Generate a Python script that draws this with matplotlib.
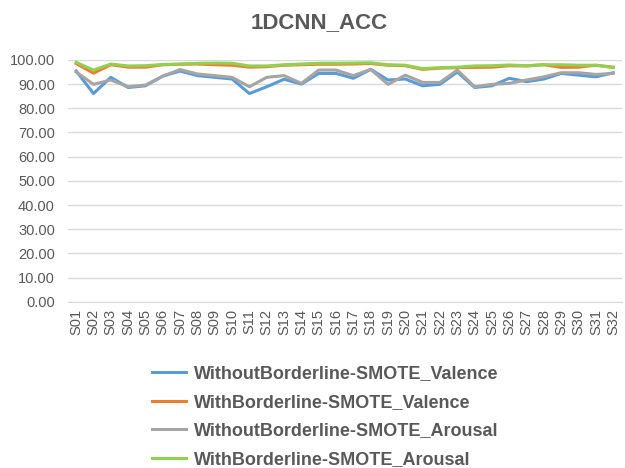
import matplotlib
matplotlib.use("Agg")
import matplotlib.pyplot as plt
import matplotlib.ticker as ticker

plt.rcParams["font.family"] = ["Liberation Sans", "DejaVu Sans"]

subjects = ["S%02d" % i for i in range(1, 33)]

without_valence = [95.4, 86.1, 92.8, 88.6, 89.3, 93.3, 95.4, 93.5, 92.8, 92.1,
                   86.1, 88.9, 92.0, 90.0, 94.4, 94.4, 92.4, 96.1, 91.7, 92.1,
                   89.3, 89.9, 95.0, 88.6, 89.3, 92.4, 91.0, 92.1, 94.4, 93.7,
                   93.0, 94.7]
with_valence = [98.5, 94.5, 98.0, 97.0, 97.0, 98.0, 98.2, 98.3, 98.0, 97.8,
                97.0, 97.2, 97.8, 98.0, 98.2, 98.2, 98.3, 98.5, 97.8, 97.6,
                96.1, 96.6, 96.8, 96.9, 97.0, 97.6, 97.5, 98.0, 96.9, 97.0,
                97.8, 97.0]
without_arousal = [95.0, 89.9, 91.7, 88.9, 89.6, 93.3, 96.0, 94.2, 93.5, 92.8,
                   88.9, 92.8, 93.5, 90.3, 95.8, 95.8, 93.5, 96.1, 89.9, 93.7,
                   90.7, 90.7, 95.8, 88.9, 89.9, 90.3, 91.7, 93.0, 94.7, 94.7,
                   94.0, 94.4]
with_arousal = [99.0, 95.8, 98.3, 97.5, 97.6, 98.1, 98.3, 98.6, 98.7, 98.6,
                97.5, 97.5, 98.0, 98.3, 98.6, 98.6, 98.7, 98.8, 98.0, 97.8,
                96.4, 96.8, 97.0, 97.5, 97.6, 97.9, 97.6, 98.0, 98.0, 97.8,
                97.8, 96.8]

series = [
    ("WithoutBorderline-SMOTE_Valence", without_valence, "#5B9BD5"),
    ("WithBorderline-SMOTE_Valence", with_valence, "#ED7D31"),
    ("WithoutBorderline-SMOTE_Arousal", without_arousal, "#A5A5A5"),
    ("WithBorderline-SMOTE_Arousal", with_arousal, "#92D050"),
]

text_color = "#595959"

fig = plt.figure(figsize=(6.25, 4.68), dpi=100)
ax = fig.add_axes([0.108, 0.355, 0.887, 0.517])

x = list(range(len(subjects)))
for label, vals, color in series:
    ax.plot(x, vals, color=color, linewidth=2.2, label=label,
            solid_joinstyle="round")

ax.set_xlim(-0.5, len(subjects) - 0.5)
ax.set_ylim(0, 100)
ax.yaxis.set_major_locator(ticker.MultipleLocator(10))
ax.yaxis.set_major_formatter(ticker.FormatStrFormatter("%.2f"))
ax.set_xticks(x)
ax.set_xticklabels(subjects, rotation=90)
ax.tick_params(axis="both", colors=text_color, labelsize=10.5, length=0)
ax.tick_params(axis="y", pad=9)
ax.tick_params(axis="x", pad=5)
ax.grid(axis="y", color="#D9D9D9", linewidth=1)
ax.set_axisbelow(True)
for side in ["top", "right", "left"]:
    ax.spines[side].set_visible(False)
ax.spines["bottom"].set_color("#D9D9D9")

fig.suptitle("1DCNN_ACC", x=0.51, y=0.975, fontsize=16, fontweight="bold",
             color=text_color)

leg = fig.legend(loc="upper center", bbox_to_anchor=(0.52, 0.254), frameon=False,
                 ncol=1, prop={"weight": "bold", "size": 13},
                 handlelength=1.9, labelspacing=0.64, handletextpad=0.4)
for t in leg.get_texts():
    t.set_color(text_color)

fig.savefig("out.png", dpi=100)
